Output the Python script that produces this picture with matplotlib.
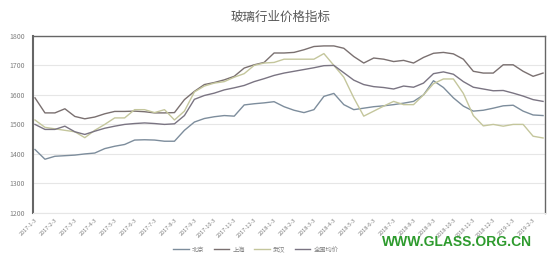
import matplotlib
matplotlib.use("Agg")
import matplotlib.pyplot as plt
import numpy as np

plt.rcParams['font.family'] = ['Noto Sans CJK SC', 'DejaVu Sans']

tick_labels = ['2017-1-3', '2017-2-3', '2017-3-3', '2017-4-3', '2017-5-3', '2017-6-3',
               '2017-7-3', '2017-8-3', '2017-9-3', '2017-10-3', '2017-11-3', '2017-12-3',
               '2018-1-3', '2018-2-3', '2018-3-3', '2018-4-3', '2018-5-3', '2018-6-3',
               '2018-7-3', '2018-8-3', '2018-9-3', '2018-10-3', '2018-11-3', '2018-12-3',
               '2019-1-3', '2019-2-3']

# half-month samples
beijing = [1415, 1382, 1392, 1394, 1396, 1400, 1403, 1418, 1426, 1432, 1447, 1448, 1447, 1443,
           1443, 1480, 1508, 1520, 1526, 1530, 1528, 1566, 1570, 1573, 1577, 1560, 1548, 1540,
           1550, 1595, 1605, 1567, 1550, 1555, 1560, 1563, 1567, 1572, 1578, 1600, 1648, 1625,
           1590, 1562, 1545, 1548, 1555, 1563, 1565, 1545, 1532, 1530]
shanghai = [1590, 1539, 1539, 1553, 1527, 1519, 1525, 1536, 1544, 1544, 1545, 1543, 1539, 1539,
            1540, 1584, 1612, 1635, 1642, 1651, 1663, 1691, 1702, 1710, 1742, 1742, 1744, 1753,
            1764, 1766, 1766, 1758, 1730, 1708, 1725, 1721, 1713, 1717, 1708, 1727, 1741, 1744,
            1739, 1721, 1680, 1674, 1674, 1702, 1702, 1680, 1663, 1674]
wuhan = [1515, 1490, 1485, 1480, 1475, 1455, 1480, 1500, 1522, 1522, 1550, 1550, 1540, 1550,
         1515, 1545, 1610, 1630, 1640, 1645, 1660, 1672, 1700, 1708, 1710, 1721, 1721, 1721,
         1721, 1740, 1700, 1660, 1590, 1528, 1545, 1562, 1578, 1567, 1567, 1600, 1638, 1654,
         1654, 1605, 1530, 1495, 1500, 1494, 1500, 1500, 1460, 1454]
national = [1500, 1483, 1483, 1494, 1475, 1466, 1477, 1487, 1494, 1500, 1503, 1505, 1503, 1500,
            1502, 1530, 1585, 1598, 1606, 1617, 1624, 1632, 1645, 1655, 1666, 1674, 1680, 1686,
            1692, 1699, 1700, 1675, 1650, 1635, 1628, 1625, 1620, 1630, 1626, 1640, 1672, 1678,
            1670, 1645, 1626, 1620, 1614, 1615, 1606, 1596, 1584, 1578]

series_names = ['北京', '上海', '武汉', '全国均价']
colors = ['#7d8d9c', '#7a7070', '#c4c69c', '#7a7482']

x = np.arange(len(beijing)) * 0.5

fig = plt.figure(figsize=(5.5, 2.6), dpi=100)
ax = fig.add_axes([0.06, 0.181, 0.931, 0.681])

for vals, name, c in zip([beijing, shanghai, wuhan, national], series_names, colors):
    ax.plot(x, vals, color=c, lw=1.0, label=name)

ax.set_ylim(1200, 1800)
ax.set_yticks(range(1200, 1801, 100))
ax.set_xlim(-0.1, 25.6)
ax.set_xticks(np.arange(len(tick_labels)))
ax.set_xticklabels(tick_labels, rotation=45, ha='right', fontsize=4, color='#7f7f7f',
                   rotation_mode='anchor')
ax.tick_params(axis='y', labelsize=5, colors='#7f7f7f', length=0, pad=6)
ax.tick_params(axis='x', length=0, pad=3)
ax.grid(axis='y', color='#e6e6e6', lw=0.8)
ax.set_axisbelow(True)
for side in ['left', 'top', 'right']:
    ax.spines[side].set_color('#666666')
    ax.spines[side].set_linewidth(1.0)
ax.spines['bottom'].set_color('#e6e6e6')
ax.spines['left'].set_linewidth(1.5)

fig.text(0.51, 0.935, '玻璃行业价格指标', ha='center', va='center', fontsize=9, color='#595959')

leg = fig.legend(loc='center', bbox_to_anchor=(0.465, 0.04), ncol=4, fontsize=4.5,
                 frameon=False, handlelength=2.5, columnspacing=1.5, handletextpad=0.5)
for t in leg.get_texts():
    t.set_color('#7f7f7f')

fig.text(0.83, 0.07, 'WWW.GLASS.ORG.CN', ha='center', va='center', fontsize=10,
         fontweight='bold', color='#2e9b2e', family=['Liberation Sans', 'DejaVu Sans'])

fig.savefig('out.png', dpi=100)
